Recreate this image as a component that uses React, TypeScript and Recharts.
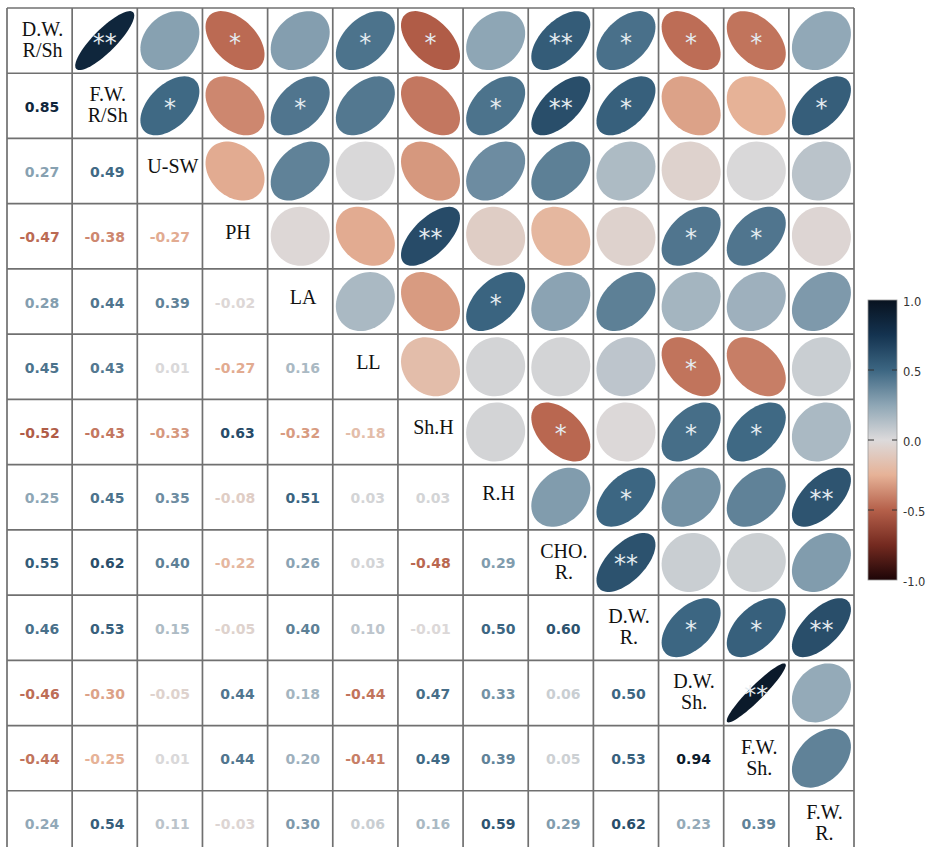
import React from "react";
import { ScatterChart, Scatter, XAxis, YAxis, ReferenceLine, Customized } from "recharts";

if (typeof document !== "undefined") document.body.style.margin = "0";

// variable names on the diagonal (one or two lines)
const LABELS = [
  ["D.W.", "R/Sh"], ["F.W.", "R/Sh"], ["U-SW"], ["PH"], ["LA"], ["LL"], ["Sh.H"],
  ["R.H"], ["CHO.", "R."], ["D.W.", "R."], ["D.W.", "Sh."], ["F.W.", "Sh."], ["F.W.", "R."],
];

// lower triangle correlations, row i holds columns 0..i-1
const LOWER = [
  [],
  [0.85],
  [0.27, 0.49],
  [-0.47, -0.38, -0.27],
  [0.28, 0.44, 0.39, -0.02],
  [0.45, 0.43, 0.01, -0.27, 0.16],
  [-0.52, -0.43, -0.33, 0.63, -0.32, -0.18],
  [0.25, 0.45, 0.35, -0.08, 0.51, 0.03, 0.03],
  [0.55, 0.62, 0.40, -0.22, 0.26, 0.03, -0.48, 0.29],
  [0.46, 0.53, 0.15, -0.05, 0.40, 0.10, -0.01, 0.50, 0.60],
  [-0.46, -0.30, -0.05, 0.44, 0.18, -0.44, 0.47, 0.33, 0.06, 0.50],
  [-0.44, -0.25, 0.01, 0.44, 0.20, -0.41, 0.49, 0.39, 0.05, 0.53, 0.94],
  [0.24, 0.54, 0.11, -0.03, 0.30, 0.06, 0.16, 0.59, 0.29, 0.62, 0.23, 0.39],
];

// significance marks in the upper triangle, row i holds columns i+1..12
const SIG = [
  ["**", "", "*", "", "*", "*", "", "**", "*", "*", "*", ""],
  ["*", "", "*", "", "", "*", "**", "*", "", "", "*"],
  ["", "", "", "", "", "", "", "", "", ""],
  ["", "", "**", "", "", "", "*", "*", ""],
  ["", "", "*", "", "", "", "", ""],
  ["", "", "", "", "*", "", ""],
  ["", "*", "", "*", "*", ""],
  ["", "*", "", "", "**"],
  ["**", "", "", ""],
  ["*", "*", "**"],
  ["**", ""],
  [""],
  [],
];

const CMAP_POS = [-1, -0.75, -0.5, -0.25, 0, 0.25, 0.5, 0.75, 1];
const CMAP_COL = ["#1d0507", "#742a20", "#b5604a", "#e6b297", "#dcdadb", "#8ea6b5", "#3c6682", "#143350", "#08121f"];
const CBAR_TICKS = [1, 0.5, 0, -0.5, -1];

const N = LABELS.length;
const W = 927, H = 870;
const M = { top: 8, right: 73, bottom: 14, left: 7 };
const CW = (W - M.left - M.right) / N;
const CH = (H - M.top - M.bottom) / N;
const R = 29.5;

function hex(c: string) {
  return [1, 3, 5].map(i => parseInt(c.slice(i, i + 2), 16));
}
function cmap(v: number) {
  const x = Math.max(-1, Math.min(1, v));
  let k = 0;
  while (k < CMAP_POS.length - 2 && x > CMAP_POS[k + 1]) k++;
  const t = (x - CMAP_POS[k]) / (CMAP_POS[k + 1] - CMAP_POS[k]);
  const a = hex(CMAP_COL[k]), b = hex(CMAP_COL[k + 1]);
  const c = a.map((u, i) => Math.round(u + (b[i] - u) * t));
  return `rgb(${c[0]},${c[1]},${c[2]})`;
}

function corr(i: number, j: number) {
  return i > j ? LOWER[i][j] : LOWER[j][i];
}

const cells: any[] = [];
for (let i = 0; i < N; i++) {
  for (let j = 0; j < N; j++) {
    cells.push({
      x: j + 0.5, y: i + 0.5, i, j,
      kind: i === j ? "diag" : i > j ? "lower" : "upper",
      r: i === j ? 1 : corr(i, j),
      sig: i < j ? SIG[i][j - i - 1] : "",
    });
  }
}

function ellipsePath(cx: number, cy: number, r: number) {
  const d = Math.acos(r);
  const pts: string[] = [];
  for (let k = 0; k <= 72; k++) {
    const t = (k / 72) * 2 * Math.PI;
    const x = cx + R * Math.cos(t + d / 2);
    const y = cy - R * Math.cos(t - d / 2);
    pts.push(`${k ? "L" : "M"}${x.toFixed(2)},${y.toFixed(2)}`);
  }
  return pts.join(" ") + " Z";
}

const CellShape = (props: any) => {
  const { cx, cy, payload } = props;
  if (cx == null || !payload) return <g />;
  const top = cy - CH / 2;
  if (payload.kind === "diag") {
    const lines = LABELS[payload.i];
    const ys = lines.length === 1 ? [top + 28] : [top + 21, top + 42];
    return (
      <g>
        {lines.map((s, k) => (
          <text key={k} x={cx + 3} y={ys[k]} textAnchor="middle" dominantBaseline="central"
            fontFamily="'Liberation Serif', serif" fontSize={20} fill="#111">{s}</text>
        ))}
      </g>
    );
  }
  if (payload.kind === "lower") {
    // positives are printed with a leading blank, so they sit a little right
    const dx = payload.r >= 0 ? 2.5 : 0;
    return (
      <text x={cx + dx} y={cy + 1} textAnchor="middle" dominantBaseline="central"
        fontFamily="'DejaVu Sans', sans-serif" fontWeight="bold" fontSize={14} fill={cmap(payload.r)}>
        {payload.r.toFixed(2)}
      </text>
    );
  }
  return (
    <g>
      <path d={ellipsePath(cx, cy, payload.r)} fill={cmap(payload.r)} />
      {payload.sig && (
        <text x={cx} y={cy + 10} textAnchor="middle" fontFamily="'DejaVu Sans', sans-serif"
          fontSize={24} fill="#e4ebf0">{payload.sig}</text>
      )}
    </g>
  );
};

const ColorBar = () => {
  const x = 868, y = 300, w = 29, h = 280;
  return (
    <g>
      <defs>
        <linearGradient id="cbar" x1="0" y1="1" x2="0" y2="0">
          {CMAP_POS.map((p, k) => (
            <stop key={k} offset={`${((p + 1) / 2) * 100}%`} stopColor={CMAP_COL[k]} />
          ))}
        </linearGradient>
      </defs>
      <rect x={x} y={y} width={w} height={h} fill="url(#cbar)" stroke="#999" strokeWidth={0.8} />
      {CBAR_TICKS.map(v => {
        const ty = y + ((1 - v) / 2) * h;
        return (
          <g key={v}>
            {Math.abs(v) < 1 && <line x1={x} x2={x + 6} y1={ty} y2={ty} stroke="#333" strokeWidth={1} />}
            {Math.abs(v) < 1 && <line x1={x + w - 5} x2={x + w} y1={ty} y2={ty} stroke="#333" strokeWidth={1} />}
            <text x={x + 35} y={ty + 2} dominantBaseline="central" fontFamily="'DejaVu Sans', sans-serif"
              fontSize={11.5} fill="#333">{v.toFixed(1)}</text>
          </g>
        );
      })}
    </g>
  );
};

const GRID = Array.from({ length: N + 1 }, (_, k) => k);

export default function App() {
  return (
    <div style={{ width: 927, height: 847, overflow: "hidden", background: "#fff" }}>
      <ScatterChart width={W} height={H} margin={M}>
        <XAxis type="number" dataKey="x" domain={[0, N]} hide />
        <YAxis type="number" dataKey="y" domain={[0, N]} reversed hide />
        <Scatter data={cells} shape={CellShape} isAnimationActive={false} />
        {GRID.map(k => (
          <ReferenceLine key={`v${k}`} x={k} stroke="#707070" strokeWidth={1.7} />
        ))}
        {GRID.map(k => (
          <ReferenceLine key={`h${k}`} y={k} stroke="#707070" strokeWidth={1.7} />
        ))}
        <Customized component={ColorBar} />
      </ScatterChart>
    </div>
  );
}
